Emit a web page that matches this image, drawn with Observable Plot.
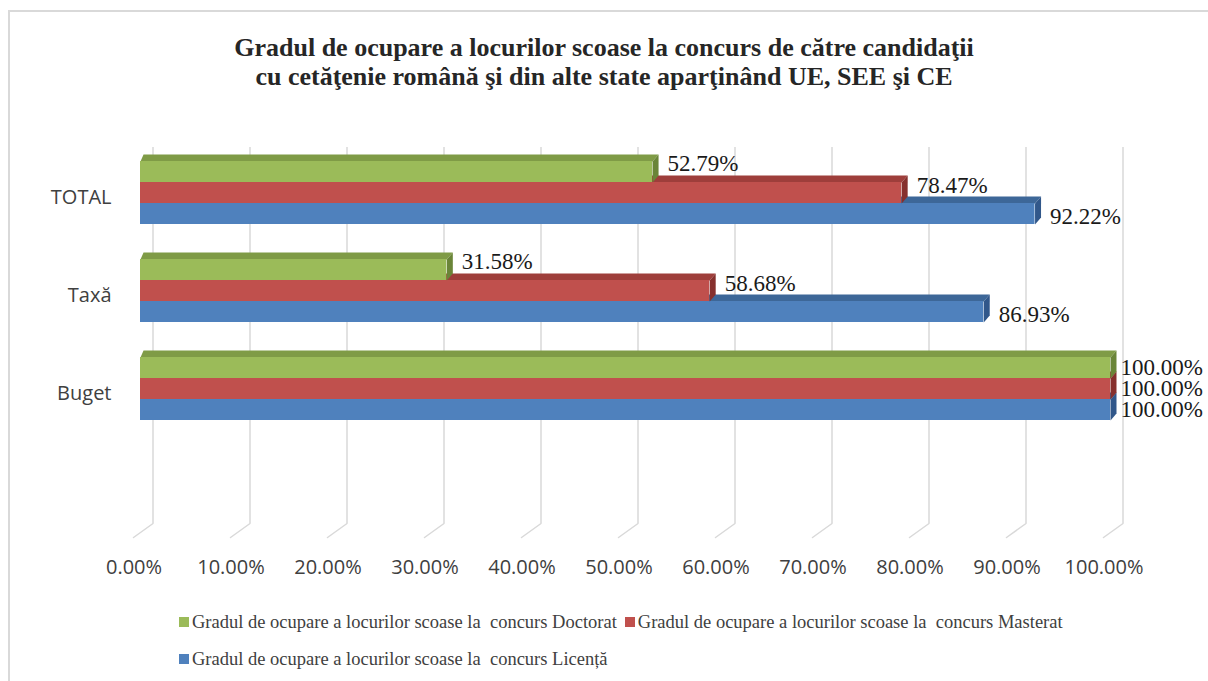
<!DOCTYPE html>
<html><head><meta charset="utf-8">
<script src="https://cdn.jsdelivr.net/npm/d3@7"></script>
<script src="https://cdn.jsdelivr.net/npm/@observablehq/plot@0.6"></script>
<style>
html,body{margin:0;padding:0;width:1208px;height:681px;overflow:hidden;background:#fff;}
#frame{position:absolute;left:8px;top:10px;width:1400px;height:900px;border-left:2px solid #d9d9d9;border-top:2px solid #d9d9d9;}
#title{position:absolute;left:0;top:33px;width:1208px;text-align:center;font-family:"Liberation Serif","Times New Roman",serif;font-weight:bold;font-size:26px;line-height:29px;color:#262626;}
#chart{position:absolute;left:0;top:0;}
#legend{position:absolute;left:179px;top:0;font-family:"Liberation Serif","Times New Roman",serif;font-size:18.5px;color:#404040;}
.row{position:absolute;left:0;height:24px;display:flex;align-items:center;white-space:pre;}
.sw{display:inline-block;width:10px;height:10px;margin-right:3px;}
</style>
</head><body>
<div id="frame"></div>
<div id="chart"></div>
<div id="title">Gradul de ocupare a locurilor scoase la concurs de către candidaţii<br>cu cetăţenie română şi din alte state aparţinând UE, SEE şi CE</div>
<div id="legend"></div>
<script>
// ---- data ----
const categories = ["TOTAL", "Taxă", "Buget"];
const seriesNames = [
  "Gradul de ocupare a locurilor scoase la  concurs Doctorat",
  "Gradul de ocupare a locurilor scoase la  concurs Masterat",
  "Gradul de ocupare a locurilor scoase la  concurs Licență"
];
const doctorat = [52.79, 31.58, 100.00];
const masterat = [78.47, 58.68, 100.00];
const licenta  = [92.22, 86.93, 100.00];
const xTicks = [0, 10, 20, 30, 40, 50, 60, 70, 80, 90, 100];

// ---- styles ----
const frontColors = ["#9bbb59", "#c0504d", "#4f81bd"];
const topColors   = ["#7f9b46", "#9e3e3b", "#3d6798"];
const sideColors  = ["#6a8538", "#86302d", "#31578a"];

const W = 1208, H = 600, ML = 140, MR = 98, MT = 147, MB = 44;
const BAND = 21, DX = 6, DY = 7, DXL = 3;
const lblDy = [-8, -7, 3];

const valuesBySeries = [doctorat, masterat, licenta];
const rows = categories.flatMap((c, i) => valuesBySeries.map((vals, s) => ({cat: c, s, v: vals[i]})));

const half = BAND / 2;
const topShape = {draw(ctx, l) {
  ctx.moveTo(0, -half); ctx.lineTo(l, -half); ctx.lineTo(l + DX, -half - DY); ctx.lineTo(DXL, -half - DY); ctx.closePath();
}};
const sideShape = {draw(ctx, l) {
  ctx.moveTo(l, -half); ctx.lineTo(l + DX, -half - DY); ctx.lineTo(l + DX, half - DY); ctx.lineTo(l, half); ctx.closePath();
}};
const diagShape = {draw(ctx) { ctx.moveTo(0, 0); ctx.lineTo(-19.5, 14); }};

const step = 98, pad = 1 - BAND / step, firstCenter = 192;
const y0 = firstCenter - step * (1 + pad) / 2;
const y1 = y0 + step * (categories.length + pad);

const marks = [
  Plot.ruleX(xTicks, {x: d => d, dx: 12.5, insetBottom: 33, stroke: "#d9d9d9", strokeWidth: 1.5}),
  Plot.vector(xTicks, {x: d => d, frameAnchor: "bottom", dx: 12.5, dy: -33, anchor: "start", shape: diagShape, stroke: "#d9d9d9", strokeWidth: 1.5})
];
for (const s of [2, 1, 0]) {
  const d = rows.filter(r => r.s === s);
  const off = (s - 1) * BAND;
  marks.push(
    Plot.vector(d, {x: () => 0, y: "cat", length: "v", anchor: "start", dy: off, shape: topShape, fill: topColors[s], stroke: "none"}),
    Plot.vector(d, {x: () => 0, y: "cat", length: "v", anchor: "start", dy: off, shape: sideShape, fill: sideColors[s], stroke: "none"}),
    Plot.barX(d, {x: "v", y: "cat", dy: off, fill: frontColors[s]})
  );
}
for (const s of [0, 1, 2]) {
  const d = rows.filter(r => r.s === s);
  const off = (s - 1) * BAND;
  const common = {x: "v", y: "cat", text: r => r.v.toFixed(2) + "%", dx: 15, textAnchor: "start",
    fontFamily: "Liberation Serif", fontSize: 23, fill: "#1a1a1a"};
  marks.push(Plot.text(d.filter(r => r.v < 100), {...common, dy: off + lblDy[s]}));
  marks.push(Plot.text(d.filter(r => r.v >= 100), {...common, dx: 10, dy: off}));
}
marks.push(
  Plot.axisX(xTicks, {tickFormat: d => d.toFixed(2) + "%", tickSize: 0, tickPadding: 3, dx: -6.5, label: null}),
  Plot.axisY({tickSize: 0, tickPadding: 29, dy: 5, label: null})
);

const chart = Plot.plot({
  width: W, height: H,
  marginLeft: ML, marginRight: MR, marginTop: MT, marginBottom: MB,
  style: {fontFamily: "'Open Sans', sans-serif", fontSize: "20px", color: "#404040", background: "transparent", overflow: "visible"},
  x: {domain: [0, 100]},
  y: {domain: categories, range: [y0, y1], padding: pad},
  length: {type: "linear", domain: [0, 100], range: [0, W - ML - MR]},
  marks
});
document.getElementById("chart").appendChild(chart);

// ---- legend ----
const legend = document.getElementById("legend");
const layout = [[0, 1], [2]];
const rowTops = [610, 647];
layout.forEach((items, ri) => {
  const row = document.createElement("div");
  row.className = "row";
  row.style.top = rowTops[ri] + "px";
  items.forEach((s, k) => {
    const sw = document.createElement("span");
    sw.className = "sw";
    sw.style.background = frontColors[s];
    if (k > 0) sw.style.marginLeft = "8px";
    const tx = document.createElement("span");
    tx.textContent = seriesNames[s];
    row.appendChild(sw); row.appendChild(tx);
  });
  legend.appendChild(row);
});
</script>
</body></html>
